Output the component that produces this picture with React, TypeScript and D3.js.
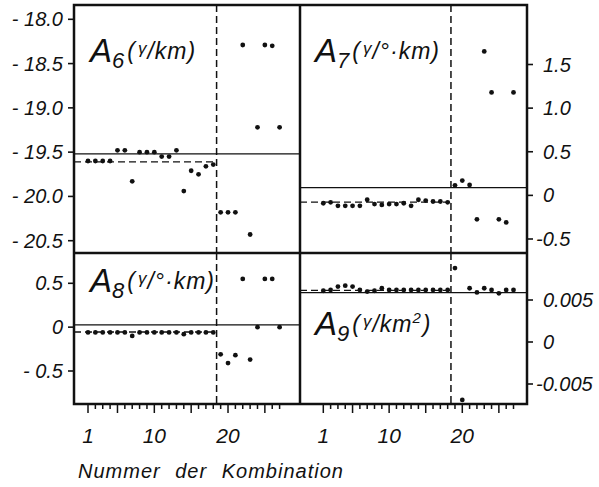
import React from "react";
import * as d3 from "d3";

// Nummer der Kombination
const combos = [1, 2, 3, 4, 5, 6, 7, 8, 9, 10, 11, 12, 13, 14, 15, 16, 17, 18, 19, 20, 21, 22, 23, 24, 25, 26, 27];
const xTicksMajor = [1, 5, 10, 15, 20, 25];
const xTickLabels = [1, 10, 20];
const dividerAt = 18.45;

const a6Values = [-19.6, -19.6, -19.6, -19.6, -19.48, -19.48, -19.83, -19.5, -19.5, -19.5, -19.55, -19.55, -19.48, -19.94, -19.71, -19.75, -19.66, -19.64,
  -20.18, -20.18, -20.18, -18.29, -20.43, -19.22, -18.29, -18.3, -19.22];
const a7Values = [-0.09, -0.08, -0.12, -0.12, -0.12, -0.12, -0.05, -0.1, -0.11, -0.1, -0.1, -0.09, -0.12, -0.05, -0.06, -0.07, -0.07, -0.08,
  0.115, 0.17, 0.12, -0.275, 1.65, 1.18, -0.275, -0.31, 1.18];
const a8Values = [-0.06, -0.06, -0.06, -0.06, -0.06, -0.06, -0.1, -0.06, -0.06, -0.06, -0.06, -0.06, -0.06, -0.08, -0.06, -0.06, -0.06, -0.06,
  -0.31, -0.41, -0.32, 0.55, -0.37, 0.0, 0.55, 0.55, 0.0];
const a9Values = [0.0061, 0.0062, 0.0066, 0.0067, 0.0066, 0.0062, 0.006, 0.0061, 0.0064, 0.0062, 0.0062, 0.0062, 0.0062, 0.0062, 0.0062, 0.0062, 0.0062, 0.0062,
  0.0088, -0.0069, 0.0064, 0.0059, 0.0064, 0.0062, 0.0058, 0.0062, 0.0062];

const a6Ticks = [-18.0, -18.5, -19.0, -19.5, -20.0, -20.5];
const a6TickLabels = ["- 18.0", "- 18.5", "- 19.0", "- 19.5", "- 20.0", "- 20.5"];
const a7Ticks = [1.5, 1.0, 0.5, 0, -0.5];
const a7TickLabels = ["1.5", "1.0", "0.5", "0", "-0.5"];
const a8Ticks = [0.5, 0, -0.5];
const a8TickLabels = ["0.5", "0", "- 0.5"];
const a9Ticks = [0.005, 0, -0.005];
const a9TickLabels = ["0.005", "0", "-0.005"];

// reference lines: solid (whole panel) and dashed (left of divider)
const a6Lines = [-19.52, -19.61];
const a7Lines = [0.088, -0.077];
const a8Lines = [0.026, -0.055];
const a9Lines = [0.00588, 0.00615];

const FONT = "'Liberation Sans', Arial, sans-serif";

type Panel = {
  sub: string;
  unit: string;
  sup?: string;
  values: number[];
  ticks: number[];
  labels: string[];
  lines: number[];
  domain: [number, number];
  yRange: [number, number];
  box: { x0: number; x1: number; y0: number; y1: number };
  side: "left" | "right";
  col: number;
  title: { x: number; y: number };
};

const colX = [
  { x0: 74, x1: 300, r: [88, 279.6] as [number, number] },
  { x0: 300, x1: 527, r: [323.3, 513.5] as [number, number] },
];
const rowY = [
  { y0: 5, y1: 253 },
  { y0: 253, y1: 404 },
];

const panels: Panel[] = [
  { sub: "6", unit: "/km)", values: a6Values, ticks: a6Ticks, labels: a6TickLabels, lines: a6Lines,
    domain: [-20.5, -18.0], yRange: [240.7, 19.3], box: { ...colX[0], ...rowY[0] }, side: "left", col: 0, title: { x: 90, y: 62 } },
  { sub: "7", unit: "/°·km)", values: a7Values, ticks: a7Ticks, labels: a7TickLabels, lines: a7Lines,
    domain: [-0.5, 1.5], yRange: [239, 64.5], box: { ...colX[1], ...rowY[0] }, side: "right", col: 1, title: { x: 315, y: 62 } },
  { sub: "8", unit: "/°·km)", values: a8Values, ticks: a8Ticks, labels: a8TickLabels, lines: a8Lines,
    domain: [-0.5, 0.5], yRange: [371, 283.3], box: { ...colX[0], ...rowY[1] }, side: "left", col: 0, title: { x: 90, y: 292 } },
  { sub: "9", unit: "/km", sup: "2", values: a9Values, ticks: a9Ticks, labels: a9TickLabels, lines: a9Lines,
    domain: [-0.005, 0.005], yRange: [384, 300], box: { ...colX[1], ...rowY[1] }, side: "right", col: 1, title: { x: 315, y: 335 } },
];

function PanelView({ p, idx }: { p: Panel; idx: number }) {
  const x = d3.scaleLinear().domain([1, 27]).range(colX[p.col].r);
  const y = d3.scaleLinear().domain(p.domain).range(p.yRange);
  const { x0, x1, y0, y1 } = p.box;
  const xd = x(dividerAt);
  return (
    <g>
      <clipPath id={`clip${idx}`}>
        <rect x={x0} y={y0} width={x1 - x0} height={y1 - y0} />
      </clipPath>
      <g clipPath={`url(#clip${idx})`}>
        <line x1={x0} x2={x1} y1={y(p.lines[0])} y2={y(p.lines[0])} stroke="#111" strokeWidth={1.2} />
        <line x1={x0} x2={xd} y1={y(p.lines[1])} y2={y(p.lines[1])} stroke="#111" strokeWidth={1.4} strokeDasharray="7,4" />
        <line x1={xd} x2={xd} y1={y0} y2={y1} stroke="#111" strokeWidth={1.5} strokeDasharray="7,4" />
        {p.values.map((v, i) => (
          <circle key={i} cx={x(combos[i])} cy={y(v)} r={2.4} fill="#111" />
        ))}
      </g>
      {p.ticks.map((t, i) => {
        const ty = y(t);
        if (p.side === "left") {
          return (
            <g key={i}>
              <line x1={x0 - 6} x2={x0} y1={ty} y2={ty} stroke="#111" strokeWidth={1.6} />
              <text x={63} y={ty + 7} textAnchor="end" fontSize={20} fontStyle="italic" fontFamily={FONT} fill="#111">{p.labels[i]}</text>
            </g>
          );
        }
        const neg = p.labels[i].startsWith("-");
        return (
          <g key={i}>
            <line x1={x1} x2={x1 + 6} y1={ty} y2={ty} stroke="#111" strokeWidth={1.6} />
            <text x={neg ? 536 : 543} y={ty + 7} textAnchor="start" fontSize={20} fontStyle="italic" fontFamily={FONT} fill="#111">{p.labels[i]}</text>
          </g>
        );
      })}
      <text x={p.title.x} y={p.title.y} fontFamily={FONT} fontStyle="italic" fill="#111" fontSize={33}>
        A
        <tspan fontSize={22} dy={6}>{p.sub}</tspan>
        <tspan fontSize={23} dy={-9} dx={3}>(</tspan>
        <tspan fontSize={17} dy={-5} dx={3}>γ</tspan>
        <tspan fontSize={23} dy={5} dx={1} letterSpacing={1}>{p.unit}</tspan>
        {p.sup ? <tspan fontSize={15} dy={-9}>{p.sup}</tspan> : null}
        {p.sup ? <tspan fontSize={23} dy={9} dx={2}>)</tspan> : null}
      </text>
    </g>
  );
}

function XAxis({ col }: { col: number }) {
  const x = d3.scaleLinear().domain([1, 27]).range(colX[col].r);
  return (
    <g>
      {combos.map((c) => {
        const major = xTicksMajor.includes(c);
        return <line key={c} x1={x(c)} x2={x(c)} y1={404} y2={major ? 413 : 409} stroke="#111" strokeWidth={1.5} />;
      })}
      {xTickLabels.map((c) => (
        <text key={c} x={x(c)} y={443} textAnchor="middle" fontSize={21} fontStyle="italic" fontFamily={FONT} fill="#111">{c}</text>
      ))}
    </g>
  );
}

export default function App() {
  return (
    <svg width={599} height={487} style={{ position: "absolute", left: 0, top: 0, background: "#fff" }}>
      <rect x={0} y={0} width={599} height={487} fill="#fff" />
      {panels.map((p, i) => <PanelView key={i} p={p} idx={i} />)}
      {/* frame */}
      <rect x={74} y={5} width={453} height={399} fill="none" stroke="#111" strokeWidth={2.5} />
      <line x1={300} x2={300} y1={5} y2={404} stroke="#111" strokeWidth={2.5} />
      <line x1={74} x2={527} y1={253} y2={253} stroke="#111" strokeWidth={2.5} />
      <XAxis col={0} />
      <XAxis col={1} />
      <text x={78} y={478} fontSize={20} fontStyle="italic" fontFamily={FONT} fill="#111" letterSpacing={1} wordSpacing={8}>
        Nummer der Kombination
      </text>
    </svg>
  );
}
